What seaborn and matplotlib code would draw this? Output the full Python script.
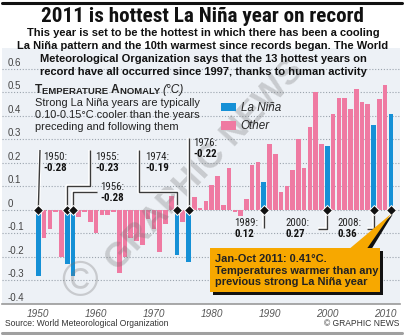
import numpy as np
import pandas as pd
import matplotlib
matplotlib.use("Agg")
import matplotlib.pyplot as plt
import matplotlib.patheffects as pe
import matplotlib.transforms as mtrans
from matplotlib.patches import Patch, Rectangle, Polygon
from matplotlib.lines import Line2D
import seaborn as sns

# ---------------- data ----------------
years = list(range(1950, 2012))
anomaly = [
    -0.28, -0.12, -0.08, -0.01, -0.20, -0.23, -0.28, -0.03, -0.01, -0.05,   # 1950-59
    -0.10, -0.02, -0.02, -0.01, -0.27, -0.20, -0.12, -0.13, -0.15, -0.04,   # 1960-69
    -0.08, -0.18, -0.06, 0.06, -0.19, -0.05, -0.22, 0.055, 0.01, 0.04,      # 1970-79
    0.105, 0.145, 0.02, 0.18, -0.01, -0.025, 0.045, 0.19, 0.205, 0.12,      # 1980-89
    0.28, 0.24, 0.075, 0.10, 0.17, 0.30, 0.18, 0.355, 0.50, 0.28,           # 1990-99
    0.27, 0.41, 0.475, 0.475, 0.43, 0.515, 0.46, 0.45, 0.36, 0.47,          # 2000-09
    0.53, 0.41,                                                            # 2010-11
]
la_nina_years = [1950, 1955, 1956, 1974, 1976, 1989, 2000, 2008, 2011]
callout_years = [1950, 1955, 1956, 1974, 1976, 1989, 2000, 2008]
callout_values = ["-0.28", "-0.23", "-0.28", "-0.19", "-0.22", "0.12", "0.27", "0.36"]
series_names = ["La Niña", "Other"]
y_ticks = [-0.4, -0.3, -0.2, -0.1, 0, 0.1, 0.2, 0.3, 0.4, 0.5, 0.6]
y_tick_labels = ["-0.4", "-0.3", "-0.2", "-0.1", "0", "0.1", "0.2", "0.3", "0.4", "0.5", "0.6"]
x_ticks = [1950, 1960, 1970, 1980, 1990, 2000, 2010]
x_tick_labels = ["1950", "1960", "1970", "1980", "1990", "2000", "2010"]

title = "2011 is hottest La Niña year on record"
subtitle = ["This year is set to be the hottest in which there has been a cooling",
            "La Niña pattern and the 10th warmest since records began. The World",
            "Meteorological Organization says that the 13 hottest years on",
            "record have all occurred since 1997, thanks to human activity"]
note_lines = ["Strong La Niña years are typically",
              "0.10-0.15°C cooler than the years",
              "preceding and following them"]
box_lines = ["Jan-Oct 2011: 0.41°C.",
             "Temperatures warmer than any",
             "previous strong La Niña year"]
source = "Source: World Meteorological Organization"
credit = "© GRAPHIC NEWS"

# ---------------- style ----------------
BLUE = "#1590d6"
PINK = "#ef7aa2"
ORANGE = "#f7a800"
BG = "#edf1f6"
GRID = "#9aa3ad"
LINE = "#3a3a3a"

sns.set_theme(style="white")
plt.rcParams["font.family"] = ["Liberation Sans", "DejaVu Sans"]
NARROW = ["Roboto Condensed", "DejaVu Sans Condensed", "Liberation Sans Narrow",
          "Open Sans Condensed", "Liberation Sans"]

W, H = 404, 335
fig = plt.figure(figsize=(W / 100, H / 100), dpi=100)
fig.patch.set_facecolor("white")
renderer = fig.canvas.get_renderer()


def fit(t, target, lo=None):
    w = t.get_window_extent(renderer).width
    fs = t.get_fontsize() * target / w
    if lo is not None:
        fs = max(fs, lo)
    t.set_fontsize(fs)
    return fs


AX_L, AX_R, AX_T, AX_B = 2, 400, 48, 304
ax = fig.add_axes([AX_L / W, (H - AX_B) / H, (AX_R - AX_L) / W, (AX_B - AX_T) / H])
ax.set_facecolor(BG)

XL = (1943.72, 2012.58)
YL = (-0.4, 0.689)


def P(x, y):
    """figure pixel (from top-left) -> data coords"""
    xd = XL[0] + (x - AX_L) / (AX_R - AX_L) * (XL[1] - XL[0])
    yd = YL[1] - (y - AX_T) / (AX_B - AX_T) * (YL[1] - YL[0])
    return xd, yd


def F(x, y):
    return x / W, 1 - y / H


df = pd.DataFrame({"year": years, "anomaly": anomaly})
df["type"] = np.where(df["year"].isin(la_nina_years), series_names[0], series_names[1])

sns.barplot(data=df, x="year", y="anomaly", hue="type", native_scale=True,
            dodge=False, palette={series_names[0]: BLUE, series_names[1]: PINK},
            width=0.8, saturation=1, errorbar=None, legend=False, ax=ax,
            linewidth=0, zorder=3)

ax.set_xlim(*XL)
ax.set_ylim(*YL)
ax.set_yticks(y_ticks)
ax.set_yticklabels([])
ax.tick_params(axis="y", length=0)
ax.yaxis.grid(True, linestyle=(0, (1, 1.6)), color=GRID, lw=0.8, zorder=1)
ax.xaxis.grid(False)
ax.set_xticks(x_ticks)
ax.set_xticklabels(x_tick_labels, fontsize=7.2, style="italic", color="#555555")
ax.tick_params(axis="x", length=0, pad=3.8)
ax.set_xlabel("")
ax.set_ylabel("")
for s in ["top", "left", "right"]:
    ax.spines[s].set_visible(False)
ax.spines["bottom"].set_color("#9a9a9a")
ax.spines["bottom"].set_linewidth(1.2)

# y labels inside the panel, slightly above their grid lines
ytr = mtrans.offset_copy(ax.get_yaxis_transform(), fig=fig, x=0, y=6, units="dots")
for v, lab in zip(y_ticks, y_tick_labels):
    ax.text(6 / (AX_R - AX_L), v, lab, transform=ytr, fontsize=7.0, color="#444444",
            ha="left", va="center", zorder=2)

# watermark
ax.text(*P(205, 165), "GRAPHIC NEWS", rotation=47, fontsize=25, fontweight="bold",
        color=(0.45, 0.45, 0.45, 0.30), ha="center", va="center", zorder=4,
        rotation_mode="anchor")
ax.text(*P(80, 283), "©", fontsize=36, color=(0.45, 0.45, 0.45, 0.30),
        ha="center", va="center", zorder=4)

# ---------------- callouts ----------------
halo = [pe.Stroke(linewidth=2.6, foreground="white"), pe.Normal()]
lab_pos = {1950: (43, 157), 1955: (95, 157), 1956: (100, 187), 1974: (145, 157),
           1976: (193, 143), 1989: (234, 223), 2000: (285, 223), 2008: (337, 223)}
paths = {
    1950: [(40, 150), (None, 211)],
    1955: [(90, 150), (90, 186), (None, 186), (None, 211)],
    1956: [(97, 192), (None, 192), (None, 211)],
    1974: [(139, 150), (139, 192), (None, 192), (None, 211)],
    1976: [(None, 138), (None, 211)],
    1989: [(None, 211), (None, 228)],
    2000: [(None, 211), (None, 229), (318, 229)],
    2008: [(None, 211), (None, 229), (367, 229)],
}
probe = ax.text(0, 0, "1950:", fontsize=8.3, family=NARROW, fontstretch="condensed")
cfs = fit(probe, 22.5, lo=7.8)
probe.remove()
for yr, val in zip(callout_years, callout_values):
    pts = []
    for (x, y) in paths[yr]:
        xd, yd = P(x if x is not None else 0, y)
        if x is None:
            xd = yr
        pts.append((xd, yd))
    xs, ys = zip(*pts)
    ax.plot(xs, ys, color=LINE, lw=1.0, zorder=5, path_effects=halo,
            solid_capstyle="butt")
    lx, ly = lab_pos[yr]
    ax.text(*P(lx, ly), f"{yr}:", fontsize=cfs, family=NARROW, fontstretch="condensed",
            color="#222222", ha="left", va="center", zorder=6)
    ax.text(*P(lx, ly + 11), val, fontsize=cfs, family=NARROW, fontstretch="condensed",
            fontweight="bold", color="#111111", ha="left", va="center", zorder=6)

# diamonds on the zero line for strong La Niña years
ax.plot(la_nina_years, [0] * len(la_nina_years), linestyle="none", marker="D",
        markersize=5.2, color="#111111", mec="white", mew=0.7, zorder=7)

# ---------------- orange box ----------------
bx0, by0, bx1, by1 = 210, 248, 380, 292
ax.add_patch(Polygon([P(353, 250), P(371, 250), P(393, 214)], closed=True,
                     facecolor="#111111", edgecolor="none", zorder=7))
ax.add_patch(Polygon([P(348, 250), P(366, 250), P(391, 214)], closed=True,
                     facecolor=ORANGE, edgecolor="none", zorder=8))
bw = P(bx1, 0)[0] - P(bx0, 0)[0]
bh = P(0, by0)[1] - P(0, by1)[1]
ax.add_patch(Rectangle(P(bx0 + 3, by1 + 3), bw, bh, facecolor="#111111",
                       edgecolor="none", zorder=7))
ax.add_patch(Rectangle(P(bx0, by1), bw, bh, facecolor=ORANGE,
                       edgecolor="none", zorder=8))
btx = [ax.text(*P(215, 259 + 11.6 * i), t, fontsize=8.3, fontweight="bold",
               color="#222222", ha="left", va="center", zorder=9)
       for i, t in enumerate(box_lines)]
bfs = fit(btx[1], 162)
for t in btx:
    t.set_fontsize(bfs)

# ---------------- legend ----------------
handles = [Patch(facecolor=BLUE, edgecolor="none", label=series_names[0]),
           Patch(facecolor=PINK, edgecolor="none", label=series_names[1])]
leg = ax.legend(handles=handles, loc="upper left", bbox_to_anchor=F(221, 102),
                bbox_transform=fig.transFigure, frameon=False, borderpad=0,
                borderaxespad=0, handlelength=1.3, handleheight=0.75,
                handletextpad=0.4, labelspacing=0.55,
                prop={"style": "italic", "size": 8.4})
leg.set_zorder(6)

# ---------------- text block ----------------
t1 = ax.text(*P(35, 90), "T", fontsize=8.6, fontweight="bold", color="#222222",
             ha="left", va="center", zorder=6)
prev = t1
for piece, size, w, st in [("EMPERATURE ", 6.8, "bold", "normal"), ("A", 8.6, "bold", "normal"),
                           ("NOMALY ", 6.8, "bold", "normal"), ("(°C)", 8.6, "normal", "italic")]:
    prev = ax.annotate(piece, xy=(1, 0), xycoords=prev, va="bottom", ha="left",
                       fontsize=size, fontweight=w, style=st, color="#222222", zorder=6)
ntx = [ax.text(*P(35, 102.5 + 12.3 * i), t, fontsize=8.3, color="#222222",
               ha="left", va="center", zorder=6) for i, t in enumerate(note_lines)]
nfs = fit(ntx[1], 164)
for t in ntx:
    t.set_fontsize(nfs)

# ---------------- titles ----------------
tt = fig.text(*F(202, 16), title, fontsize=14.5, fontweight="heavy", ha="center",
              va="center", color="#111111", family=NARROW, fontstretch="condensed")
fit(tt, 323)
stx = [fig.text(*F(203, 33 + 13 * i), t, fontsize=8.3, fontweight="bold", ha="center",
                va="center", color="#111111", zorder=10) for i, t in enumerate(subtitle)]
sfs = fit(stx[1], 369)
for t in stx:
    t.set_fontsize(sfs)

s1 = fig.text(*F(5, 324), source, fontsize=7.2, color="#333333", ha="left", va="center")
sz = fit(s1, 162)
fig.text(*F(399, 324), credit, fontsize=sz, color="#333333", ha="right", va="center")

fig.add_artist(Line2D([2 / W, 402 / W], [1 - 2.5 / H, 1 - 2.5 / H], color="#111111",
                      lw=2.2, transform=fig.transFigure))
fig.add_artist(Line2D([2 / W, 402 / W], [1 - 332.5 / H, 1 - 332.5 / H], color="#a0a0a0",
                      lw=2.2, transform=fig.transFigure))

fig.savefig("out.png", dpi=100)
